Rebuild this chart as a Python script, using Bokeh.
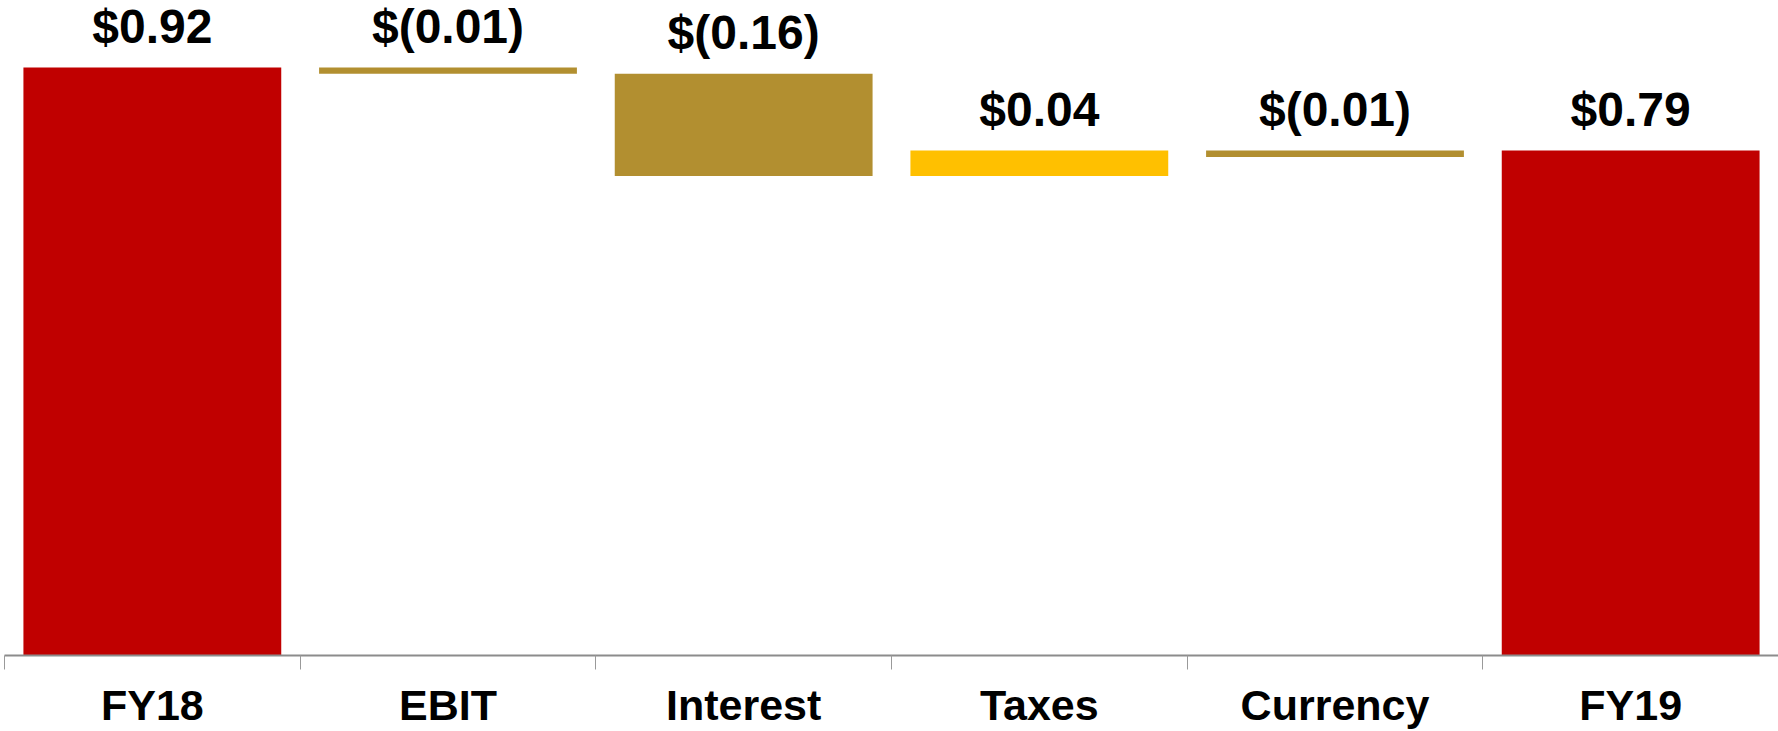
from bokeh.plotting import figure
from bokeh.models import ColumnDataSource, FixedTicker, Range1d
from bokeh.core.properties import value
from bokeh.embed import file_html
from bokeh.resources import INLINE

# EPS bridge, FY18 -> FY19
categories = ["FY18", "EBIT", "Interest", "Taxes", "Currency", "FY19"]
amounts = [0.92, -0.01, -0.16, 0.04, -0.01, 0.79]
kinds = ["total", "step", "step", "step", "step", "total"]
value_labels = ["$0.92", "$(0.01)", "$(0.16)", "$0.04", "$(0.01)", "$0.79"]

RED = "#C00000"
GOLD = "#B28F30"
YELLOW = "#FFC000"

xs, bottoms, tops, colors = [], [], [], []
running = 0.0
for i, (amt, kind) in enumerate(zip(amounts, kinds)):
    xs.append(i)
    if kind == "total":
        bottoms.append(0.0)
        tops.append(amt)
        colors.append(RED)
        running = amt
    else:
        start, end = running, running + amt
        bottoms.append(min(start, end))
        tops.append(max(start, end))
        colors.append(YELLOW if amt > 0 else GOLD)
        running = end

src = ColumnDataSource(dict(x=xs, bottom=bottoms, top=tops, color=colors,
                            label=value_labels))

p = figure(width=1778, height=731, output_backend="svg", toolbar_location=None,
           x_range=Range1d(-0.5, 5.5), y_range=Range1d(0, 1.0247),
           min_border_left=4, min_border_right=0, min_border_top=0,
           min_border_bottom=76)
p.outline_line_color = None
p.background_fill_color = "white"
p.border_fill_color = "white"
p.xgrid.visible = False
p.ygrid.visible = False
p.yaxis.visible = False

p.vbar(x="x", bottom="bottom", top="top", width=0.872, color="color",
       line_color=None, source=src)

p.text(x="x", y="top", text="label", source=src, text_align="center",
       text_baseline="alphabetic", y_offset=-41,
       text_font=value("Liberation Sans"), text_font_style="bold",
       text_font_size="48px", text_color="black")

ax = p.xaxis[0]
ax.ticker = FixedTicker(ticks=list(range(len(categories))),
                        minor_ticks=[i - 0.5 for i in range(len(categories) + 1)])
ax.major_label_overrides = {i: c for i, c in enumerate(categories)}
ax.major_tick_line_color = None
ax.major_tick_out = 0
ax.major_tick_in = 0
ax.minor_tick_line_color = "#9A9A9A"
ax.minor_tick_line_width = 1
ax.minor_tick_out = 14
ax.minor_tick_in = 0
ax.axis_line_color = "#8C8C8C"
ax.axis_line_width = 2
ax.major_label_standoff = 11
ax.major_label_text_font = "Liberation Sans"
ax.major_label_text_font_style = "bold"
ax.major_label_text_font_size = "43px"
ax.major_label_text_color = "black"

open("out.html", "w").write(file_html(p, INLINE))
